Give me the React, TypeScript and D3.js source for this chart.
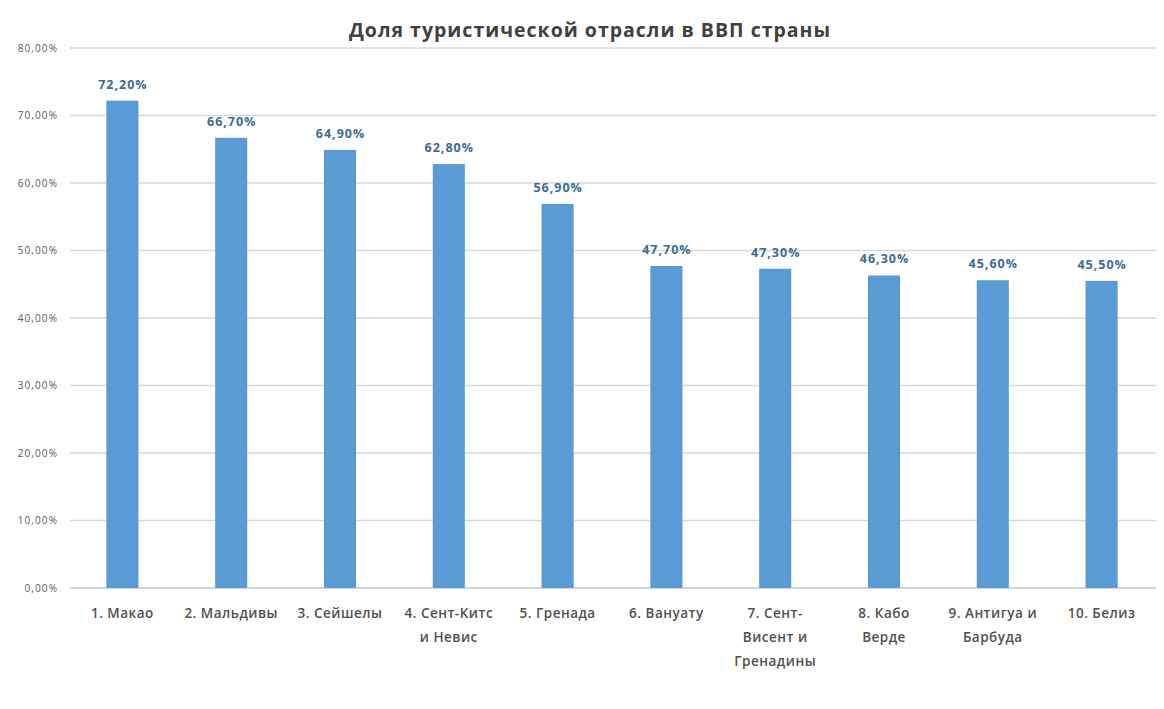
import React from "react";
import * as d3 from "d3";

const title = "Доля туристической отрасли в ВВП страны";
const categories = [
  "1. Макао",
  "2. Мальдивы",
  "3. Сейшелы",
  "4. Сент-Китс и Невис",
  "5. Гренада",
  "6. Вануату",
  "7. Сент-Висент и Гренадины",
  "8. Кабо Верде",
  "9. Антигуа и Барбуда",
  "10. Белиз",
];
const categoryLines = [
  ["1. Макао"],
  ["2. Мальдивы"],
  ["3. Сейшелы"],
  ["4. Сент-Китс", "и Невис"],
  ["5. Гренада"],
  ["6. Вануату"],
  ["7. Сент-", "Висент и", "Гренадины"],
  ["8. Кабо", "Верде"],
  ["9. Антигуа и", "Барбуда"],
  ["10. Белиз"],
];
const values = [72.2, 66.7, 64.9, 62.8, 56.9, 47.7, 47.3, 46.3, 45.6, 45.5];
const yTicks = [0, 10, 20, 30, 40, 50, 60, 70, 80];

const W = 1164;
const H = 709;
const left = 68;
const right = 1156;
const top = 48;
const bottom = 588;

const fmt = (v: number) => v.toFixed(2).replace(".", ",") + "%";
const font = "'Open Sans', 'DejaVu Sans', sans-serif";

export default function App() {
  const x = d3.scaleBand<string>().domain(categories).range([left, right]).paddingInner(0.705).paddingOuter(0.3525);
  const y = d3.scaleLinear().domain([0, 80]).range([bottom, top]);
  return (
    <svg width={W} height={H} style={{ position: "absolute", left: 0, top: 0, background: "#fff" }}>
      <rect x={0} y={0} width={W} height={H} fill="#fff" />
      <text x={590} y={37} textAnchor="middle" fontFamily={font} fontWeight={700} fontSize={19.5} letterSpacing={1} fill="#404040">
        {title}
      </text>
      {yTicks.map((t) => (
        <g key={t}>
          <line x1={left + 2} x2={right} y1={y(t)} y2={y(t)} stroke={t === 0 ? "#c8c8c8" : "#d9d9d9"} strokeWidth={1.3} />
          <text x={58} y={y(t) + 3.5} textAnchor="end" fontFamily={font} fontSize={10} letterSpacing={1.1} fill="#595959">
            {fmt(t)}
          </text>
        </g>
      ))}
      {categories.map((c, i) => (
        <g key={c}>
          <rect x={x(c)!} y={y(values[i])} width={x.bandwidth()} height={bottom - y(values[i])} fill="#5b9bd5" />
          <text
            x={x(c)! + x.bandwidth() / 2 + 0.5}
            y={y(values[i]) - 12}
            textAnchor="middle"
            fontFamily={font}
            fontWeight={700}
            fontSize={12.5}
            letterSpacing={1}
            fill="#3a6c93"
          >
            {fmt(values[i])}
          </text>
          {categoryLines[i].map((ln, j) => (
            <text
              key={j}
              x={x(c)! + x.bandwidth() / 2}
              y={618 + j * 24}
              textAnchor="middle"
              fontFamily={font}
              fontWeight={600}
              fontSize={13.5}
              letterSpacing={0.5}
              fill="#505050"
            >
              {ln}
            </text>
          ))}
        </g>
      ))}
    </svg>
  );
}
